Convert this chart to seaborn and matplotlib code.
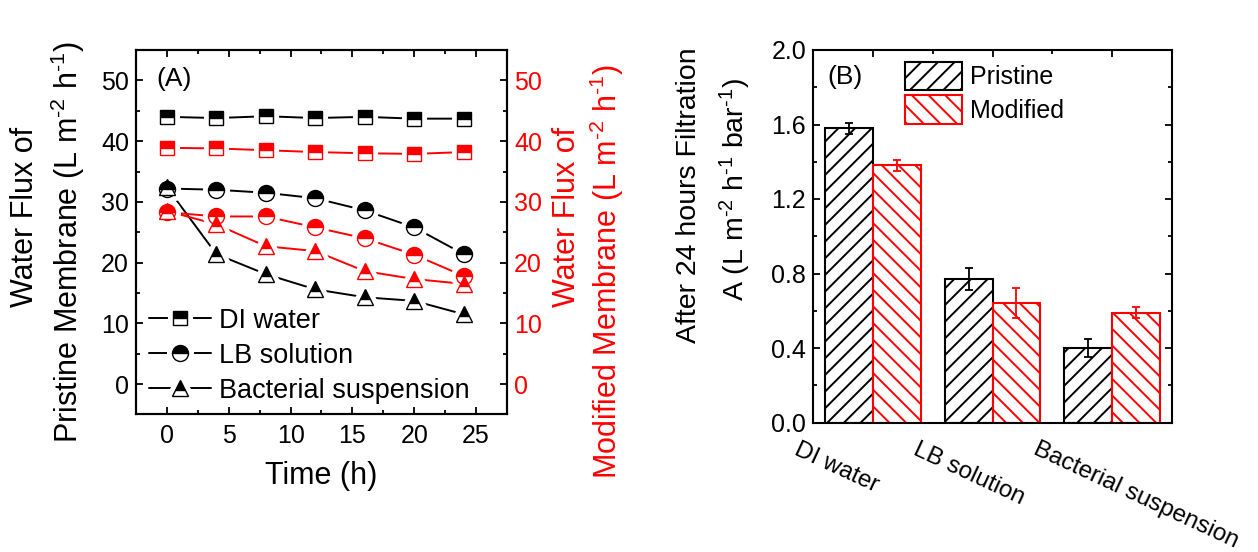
import numpy as np
import pandas as pd
import matplotlib
matplotlib.use("Agg")
import matplotlib.pyplot as plt
import seaborn as sns
import matplotlib.transforms as mtransforms
from matplotlib.lines import Line2D
from matplotlib.patches import Patch
from matplotlib.markers import MarkerStyle
from matplotlib.legend_handler import HandlerTuple
from matplotlib.ticker import MultipleLocator, FixedLocator, FormatStrFormatter

# ---------------- data ----------------
time_h = [0, 4, 8, 12, 16, 20, 24]
pristine_di = [44.0, 43.8, 44.1, 43.8, 44.0, 43.7, 43.7]
pristine_lb = [32.2, 32.0, 31.5, 30.6, 28.6, 25.8, 21.4]
pristine_bac = [32.4, 21.4, 18.1, 15.6, 14.3, 13.7, 11.5]
modified_di = [38.9, 38.8, 38.5, 38.2, 38.0, 37.9, 38.2]
modified_lb = [28.3, 27.6, 27.6, 25.8, 24.0, 21.3, 17.8]
modified_bac = [28.5, 26.3, 22.7, 21.9, 18.6, 17.3, 16.5]

series_names = ["DI water", "LB solution", "Bacterial suspension"]
membranes = ["Pristine", "Modified"]

perm_pristine = [1.58, 0.77, 0.40]
perm_modified = [1.38, 0.64, 0.59]
err_pristine = [0.03, 0.06, 0.05]
err_modified = [0.03, 0.08, 0.03]

# ---------------- style ----------------
sns.set_theme(style="ticks")
plt.rcParams.update({
    "font.family": ["Liberation Sans", "DejaVu Sans"],
    "mathtext.fontset": "custom",
    "mathtext.rm": "Liberation Sans",
    "mathtext.it": "Liberation Sans",
    "mathtext.default": "regular",
    "axes.linewidth": 1.5,
    "hatch.linewidth": 1.4,
    "axes.edgecolor": "black",
    "text.color": "black",
    "axes.labelcolor": "black",
    "xtick.color": "black",
    "ytick.color": "black",
    "xtick.labelcolor": "black",
    "ytick.labelcolor": "black",
})

RED = "#ff0000"
BLACK = "#000000"
HY = "\u2010"  # hyphen-like minus used in superscripts
fig = plt.figure(figsize=(12.58, 5.52), dpi=100)

# ================= Panel A =================
ax = fig.add_axes([0.1081, 0.2491, 0.2949, 0.6603])

rows = []
for name, vals, memb in [("P_DI", pristine_di, "Pristine"), ("P_LB", pristine_lb, "Pristine"),
                         ("P_BA", pristine_bac, "Pristine"), ("M_DI", modified_di, "Modified"),
                         ("M_LB", modified_lb, "Modified"), ("M_BA", modified_bac, "Modified")]:
    for t, v in zip(time_h, vals):
        rows.append({"time": t, "flux": v, "series": name, "membrane": memb})
df_flux = pd.DataFrame(rows)

sns.lineplot(data=df_flux, x="time", y="flux", hue="membrane", units="series",
             estimator=None, palette={"Pristine": BLACK, "Modified": RED},
             legend=False, lw=1.4, ax=ax, zorder=2)

marker_sizes = {"s": 10.5, "o": 11.5, "^": 11.5}
specs = [(pristine_di, BLACK, "s"), (pristine_lb, BLACK, "o"), (pristine_bac, BLACK, "^"),
         (modified_di, RED, "s"), (modified_lb, RED, "o"), (modified_bac, RED, "^")]
HALO = 8
for vals, c, m in specs:
    ms = marker_sizes[m]
    ax.plot(time_h, vals, ls="none", marker=MarkerStyle(m, joinstyle="round"), ms=ms,
            mfc="white", mec="white", mew=HALO, zorder=3)
    ax.plot(time_h, vals, ls="none", marker=m, ms=ms, fillstyle="top", mfc=c,
            markerfacecoloralt="white", mec=c, mew=1.0, zorder=4)

ax.set_xlim(-2.5, 27.5)
ax.set_ylim(-5, 55)
ax.xaxis.set_major_locator(MultipleLocator(5))
ax.xaxis.set_minor_locator(MultipleLocator(2.5))
ax.yaxis.set_major_locator(MultipleLocator(10))
ax.yaxis.set_minor_locator(MultipleLocator(5))
ax.tick_params(which="both", direction="in", top=True, right=False, width=1.3)
ax.tick_params(which="major", length=5, labelsize=18, pad=5)
ax.tick_params(axis="x", which="major", pad=7)
ax.tick_params(which="minor", length=3)
ax.set_xlabel("Time (h)", fontsize=22, labelpad=9)
ax.set_ylabel("")

ax2 = ax.twinx()
ax2.set_ylim(ax.get_ylim())
ax2.yaxis.set_major_locator(MultipleLocator(10))
ax2.yaxis.set_minor_locator(MultipleLocator(5))
ax2.tick_params(which="both", direction="in", width=1.3, color="black", labelcolor=RED)
ax2.tick_params(which="major", length=5, labelsize=18, pad=5)
ax2.tick_params(which="minor", length=3)
for sp in ax2.spines.values():
    sp.set_linewidth(1.5)

ax.text(0.055, 0.92, "(A)", transform=ax.transAxes, fontsize=19, va="center", ha="left")

leg_handles = []
for m in ["s", "o", "^"]:
    ms = marker_sizes[m]
    ln = Line2D([], [], color=BLACK, lw=1.4)
    halo = Line2D([], [], ls="none", marker=MarkerStyle(m, joinstyle="round"), ms=ms,
                  mfc="white", mec="white", mew=HALO)
    mk = Line2D([], [], ls="none", marker=m, ms=ms, fillstyle="top", mfc=BLACK,
                markerfacecoloralt="white", mec=BLACK, mew=1.0)
    leg_handles.append((ln, halo, mk))
ax.legend(leg_handles, series_names, handler_map={tuple: HandlerTuple(ndivide=1, pad=0)},
          loc="lower left", bbox_to_anchor=(0.035, 0.03), frameon=False, fontsize=19.5,
          handlelength=2.3, handletextpad=0.3, labelspacing=0.33, borderpad=0,
          borderaxespad=0)

# y labels as texts
fig.text(25 / 1258, 1 - 217 / 552, "Water Flux of", rotation=90, fontsize=22,
         ha="center", va="center")
fig.text(68 / 1258, 1 - 242 / 552, f"Pristine Membrane (L m$^{{{HY}2}}$ h$^{{{HY}1}}$)",
         rotation=90, fontsize=22, ha="center", va="center")
fig.text(567 / 1258, 1 - 217 / 552, "Water Flux of", rotation=90, fontsize=22,
         ha="center", va="center", color=RED)
fig.text(607 / 1258, 1 - 271 / 552, f"Modified Membrane (L m$^{{{HY}2}}$ h$^{{{HY}1}}$)",
         rotation=90, fontsize=22, ha="center", va="center", color=RED)

# ================= Panel B =================
axb = fig.add_axes([813 / 1258, 1 - 422.5 / 552, (1172 - 813) / 1258, (422.5 - 50) / 552])

df_bar = pd.DataFrame({
    "feed": series_names * 2,
    "membrane": ["Pristine"] * 3 + ["Modified"] * 3,
    "perm": perm_pristine + perm_modified,
})
sns.barplot(data=df_bar, x="feed", y="perm", hue="membrane", order=series_names,
            hue_order=membranes, palette={"Pristine": "white", "Modified": "white"},
            width=0.8, gap=0, errorbar=None, legend=False, ax=axb, linewidth=1.5,
            edgecolor="black")

bar_colors = [BLACK, RED]
hatches = ["//", "\\\\"]
errs = [err_pristine, err_modified]
for cont, c, h, e in zip(axb.containers, bar_colors, hatches, errs):
    xs, ys = [], []
    for bar in cont:
        bar.set_facecolor("white")
        bar.set_edgecolor(c)
        bar.set_hatch(h)
        bar.set_linewidth(1.5)
        xs.append(bar.get_x() + bar.get_width() / 2)
        ys.append(bar.get_height())
    axb.errorbar(xs, ys, yerr=e, fmt="none", ecolor=c, elinewidth=1.3, capsize=3,
                 capthick=1.3, zorder=5)

axb.set_xlim(-0.5, 2.5)
axb.set_ylim(0, 2.0)
axb.yaxis.set_major_locator(MultipleLocator(0.4))
axb.yaxis.set_minor_locator(MultipleLocator(0.2))
axb.yaxis.set_major_formatter(FormatStrFormatter("%.1f"))
axb.xaxis.set_minor_locator(FixedLocator([0.5, 1.5]))
axb.tick_params(which="both", direction="in", top=True, right=True, width=1.3)
axb.tick_params(which="major", length=5, labelsize=18, pad=5)
axb.tick_params(which="minor", length=3)
axb.tick_params(axis="x", which="minor", bottom=False)
axb.tick_params(axis="x", labelbottom=False)
axb.set_xlabel("")
axb.set_ylabel("")

cat_offset = mtransforms.ScaledTranslation(-73 / 100, -16 / 100, fig.dpi_scale_trans)
trans = mtransforms.blended_transform_factory(axb.transData, axb.transAxes) + cat_offset
for i, name in enumerate(series_names):
    axb.text(i, 0, name, transform=trans, rotation=-25, rotation_mode="anchor",
             ha="left", va="top", fontsize=17.5)

axb.text(0.04, 0.928, "(B)", transform=axb.transAxes, fontsize=19, va="center", ha="left")

bar_handles = [Patch(facecolor="white", edgecolor=c, hatch=h, lw=1.5)
               for c, h in zip(bar_colors, hatches)]
axb.legend(bar_handles, membranes, loc="upper left", bbox_to_anchor=(0.256, 0.968),
           frameon=False, fontsize=18, handlelength=2.3, handleheight=1.35,
           handletextpad=0.3, labelspacing=0.22, borderpad=0, borderaxespad=0)

fig.text(689 / 1258, 1 - 195 / 552, "After 24 hours Filtration", rotation=90, fontsize=20.5,
         ha="center", va="center")
fig.text(735 / 1258, 1 - 190 / 552, f"A (L m$^{{{HY}2}}$ h$^{{{HY}1}}$ bar$^{{{HY}1}}$)",
         rotation=90, fontsize=20.5, ha="center", va="center")

fig.savefig("out.png", dpi=100)
